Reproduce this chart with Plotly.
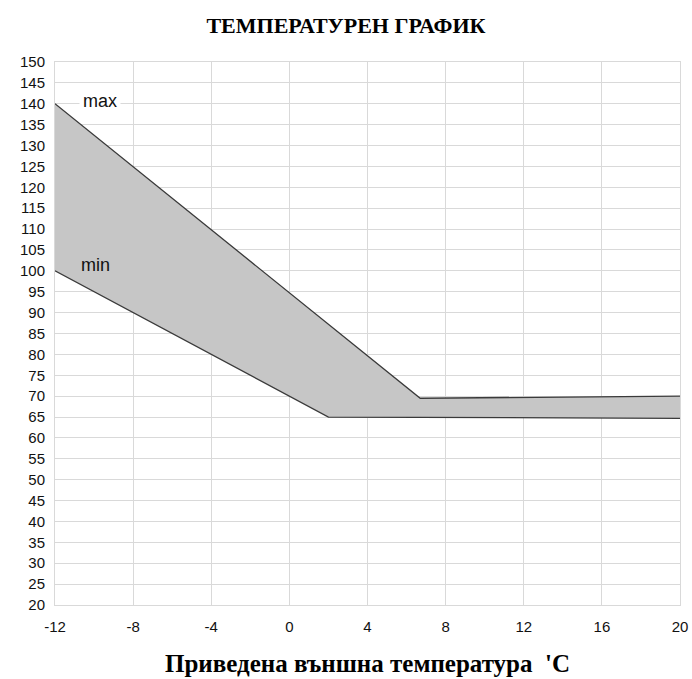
import plotly.graph_objects as go

max_x = [-12, 6.7, 20]
max_y = [140, 69.5, 70]
min_x = [-12, 2, 20]
min_y = [100, 65, 64.7]

x_ticks = [-12, -8, -4, 0, 4, 8, 12, 16, 20]
x_tick_labels = ["-12", "-8", "-4", "0", "4", "8", "12", "16", "20"]
y_ticks = list(range(20, 151, 5))

title = "ТЕМПЕРАТУРЕН ГРАФИК"
x_title = "Приведена външна температура  'С"

fig = go.Figure()
poly_x = max_x + min_x[::-1]
poly_y = max_y + min_y[::-1]
fig.add_trace(go.Scatter(x=poly_x, y=poly_y, fill="toself", fillcolor="#c6c6c6",
                         line=dict(width=0), mode="lines", hoverinfo="skip", showlegend=False))
fig.add_trace(go.Scatter(x=max_x, y=max_y, mode="lines", line=dict(color="#3a3a3a", width=1.3),
                         name="max", showlegend=False))
fig.add_trace(go.Scatter(x=min_x, y=min_y, mode="lines", line=dict(color="#3a3a3a", width=1.3),
                         name="min", showlegend=False))

fig.add_annotation(x=-9.7, y=140.6, text="max", showarrow=False, bgcolor="white",
                   font=dict(family="Liberation Sans", size=18, color="#111"), borderpad=3)
fig.add_annotation(x=-9.95, y=101.4, text="min", showarrow=False, bgcolor="#c6c6c6",
                   font=dict(family="Liberation Sans", size=18, color="#111"), borderpad=3)

W, H = 692, 679
fig.update_layout(
    width=W, height=H,
    paper_bgcolor="white", plot_bgcolor="white",
    margin=dict(l=55, r=12, t=62, b=74, autoexpand=False),
    title=dict(text="<b>" + title + "</b>", x=0.5, xanchor="center", y=1 - 25 / H, yanchor="middle",
               font=dict(family="Liberation Serif", size=22, color="black")),
    xaxis=dict(range=[-12, 20], tickvals=x_ticks, ticktext=x_tick_labels, showgrid=True,
               gridcolor="#d9d9d9", gridwidth=1, automargin=False,
               zeroline=False, showline=True, linecolor="#d9d9d9", mirror=True,
               tickfont=dict(family="Liberation Sans", size=15, color="#111"), ticks="",
               ticklabelstandoff=8,
               title=dict(text="<b>" + x_title + "</b>", standoff=20,
                          font=dict(family="Liberation Serif", size=25, color="black"))),
    yaxis=dict(range=[20, 150], tickvals=y_ticks, showgrid=True, gridcolor="#d9d9d9", gridwidth=1,
               zeroline=False, showline=True, linecolor="#d9d9d9", mirror=True, automargin=False,
               tickfont=dict(family="Liberation Sans", size=15, color="#111"), ticks="",
               ticklabelstandoff=6),
)

fig.write_html(
    "out.html",
    config={"displayModeBar": False},
    post_script="document.body.style.margin='0';document.documentElement.style.overflow='hidden';",
)
